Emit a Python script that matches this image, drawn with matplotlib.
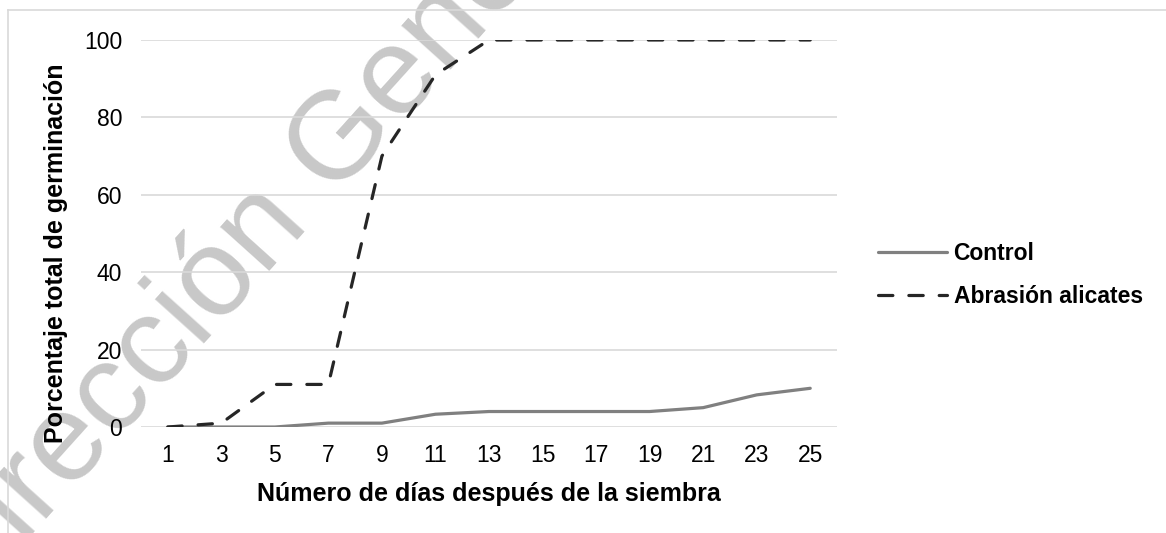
import numpy as np
import matplotlib.pyplot as plt
from matplotlib.lines import Line2D

plt.rcParams['font.family'] = ['Liberation Sans', 'DejaVu Sans']

# dias despues de la siembra
dias = [1, 3, 5, 7, 9, 11, 13, 15, 17, 19, 21, 23, 25]
control = [0, 0, 0, 1, 1, 3.3, 4, 4, 4, 4, 5, 8.3, 10]
abrasion = [0, 1, 11, 11, 70, 91, 100, 100, 100, 100, 100, 100, 100]
yticks = [0, 20, 40, 60, 80, 100]

W, H = 1166, 533
fig = plt.figure(figsize=(W / 100, H / 100), dpi=100)
ax = fig.add_axes([141 / W, 1 - 427 / H, 696 / W, 387 / H])

# marca de agua
ax.text(-38 / W, 1 - 612 / H, 'Dirección General de Bibliotecas',
        transform=fig.transFigure, rotation=48, rotation_mode='anchor',
        ha='left', va='baseline', fontsize=90, color='#c8c8c8',
        zorder=1, clip_on=False)

ax.plot(dias, control, color='#808080', lw=2.3, solid_capstyle='round',
        label='Control', zorder=3)
ax.plot(dias, abrasion, color='#262626', lw=2.3, linestyle=(0, (4.5, 5.0)),
        dash_capstyle='round', label='Abrasión alicates', zorder=3)

ax.set_xlim(0, 26)
ax.set_ylim(0, 100)
ax.set_xticks(dias)
ax.set_yticks(yticks)
ax.tick_params(length=0, labelsize=16.5, colors='black')
ax.tick_params(axis='x', pad=12.5)
ax.tick_params(axis='y', pad=13.5)
ax.set_axisbelow(False)
ax.grid(axis='y', color='#d9d9d9', lw=1.2)
for s in ax.spines.values():
    s.set_visible(False)

fig.text(56 / W, 1 - 253 / H, 'Porcentaje total de germinación',
         rotation=90, ha='center', va='center', fontsize=18, fontweight='bold')
fig.text(489 / W, 1 - 501 / H, 'Número de días después de la siembra',
         ha='center', va='baseline', fontsize=18, fontweight='bold')

leg = ax.legend(loc='center left', bbox_to_anchor=(878 / W, 1 - 275 / H),
                bbox_transform=fig.transFigure, frameon=False, borderpad=0,
                borderaxespad=0, handlelength=3.0, handletextpad=0.3,
                labelspacing=0.85, prop={'size': 16.5, 'weight': 'bold'})

# borde del grafico
fig.add_artist(Line2D([8 / W, 8 / W], [0, 1 - 10 / H], color='#d9d9d9', lw=1.2))
fig.add_artist(Line2D([8 / W, 1], [1 - 10 / H, 1 - 10 / H], color='#d9d9d9', lw=1.2))

fig.savefig('out.png', dpi=100)
